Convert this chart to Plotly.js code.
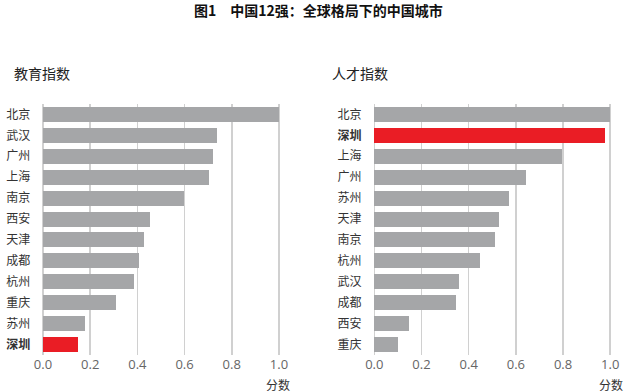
<!DOCTYPE html>
<html><head><meta charset="utf-8">
<script src="https://cdn.plot.ly/plotly-3.0.1.min.js"></script>
<style>html,body{margin:0;padding:0;background:#fff}#c{width:637px;height:392px}</style>
</head><body><div id="c"></div>
<script>
const eduCities = ["北京","武汉","广州","上海","南京","西安","天津","成都","杭州","重庆","苏州","深圳"];
const eduValues = [1.0,0.737,0.72,0.705,0.597,0.453,0.429,0.408,0.387,0.308,0.177,0.147];
const talentCities = ["北京","深圳","上海","广州","苏州","天津","南京","杭州","武汉","成都","西安","重庆"];
const talentValues = [1.0,0.979,0.794,0.643,0.573,0.528,0.512,0.450,0.360,0.347,0.148,0.100];
const xTicks = [0,0.2,0.4,0.6,0.8,1.0];
const xTickText = ["0.0","0.2","0.4","0.6","0.8","1.0"];
const highlight = "深圳";

const GRAY = "#a5a6a8", RED = "#ea1d25";
const CJK = "'Noto Sans CJK SC', 'Noto Sans', sans-serif";
function colors(c){return c.map(v=>v===highlight?RED:GRAY);}
function labels(c){return c.map(v=>v===highlight?"<b>"+v+"</b>":v);}

const traces = [
 {type:"bar",orientation:"h",x:eduValues,y:eduCities,marker:{color:colors(eduCities)},width:0.72,xaxis:"x",yaxis:"y",hoverinfo:"none"},
 {type:"bar",orientation:"h",x:talentValues,y:talentCities,marker:{color:colors(talentCities)},width:0.72,xaxis:"x2",yaxis:"y2",hoverinfo:"none"}
];
function xa(domain){return {domain:domain,range:[-0.01,1.01],tickvals:xTicks,ticktext:xTickText,showgrid:true,gridcolor:"#d0d0d0",gridwidth:1.5,zeroline:false,showline:false,ticks:"",tickfont:{family:"'Open Sans', sans-serif",size:13,color:"#666"},fixedrange:true};}
function ya(domain,cats,anchor){return {domain:domain,type:"category",categoryorder:"array",categoryarray:cats,tickvals:cats,ticktext:labels(cats),range:[11.5,-0.5],showgrid:false,zeroline:false,showline:false,ticks:"outside",ticklen:7,tickcolor:"rgba(0,0,0,0)",tickfont:{family:CJK,size:12,color:"#333"},anchor:anchor,fixedrange:true};}
const yd=[0.0944,0.7347];
const layout = {
 width:637,height:392,margin:{l:0,r:0,t:0,b:0},paper_bgcolor:"#fff",plot_bgcolor:"rgba(0,0,0,0)",showlegend:false,bargap:0,
 xaxis:Object.assign(xa([0.0638,0.4416]),{anchor:"y"}),
 yaxis:ya(yd,eduCities,"x"),
 xaxis2:Object.assign(xa([0.5839,0.9617]),{anchor:"y2"}),
 yaxis2:ya(yd,talentCities,"x2"),
 annotations:[
  {text:"<b>图1　中国12强：全球格局下的中国城市</b>",xref:"paper",yref:"paper",x:0.5,y:1-10/392,xanchor:"center",yanchor:"middle",showarrow:false,font:{family:"'Noto Sans CJK SC', serif",size:14,color:"#111"}},
  {text:"教育指数",xref:"paper",yref:"paper",x:12/637,y:1-73/392,xanchor:"left",yanchor:"middle",showarrow:false,font:{family:CJK,size:14,color:"#222"}},
  {text:"人才指数",xref:"paper",yref:"paper",x:330/637,y:1-73/392,xanchor:"left",yanchor:"middle",showarrow:false,font:{family:CJK,size:14,color:"#222"}},
  {text:"分数",xref:"paper",yref:"paper",x:292/637,y:1-384/392,xanchor:"right",yanchor:"middle",showarrow:false,font:{family:CJK,size:12,color:"#333"}},
  {text:"分数",xref:"paper",yref:"paper",x:625/637,y:1-384/392,xanchor:"right",yanchor:"middle",showarrow:false,font:{family:CJK,size:12,color:"#333"}}
 ]
};
Plotly.newPlot("c",traces,layout,{displayModeBar:false,staticPlot:true});
</script></body></html>
